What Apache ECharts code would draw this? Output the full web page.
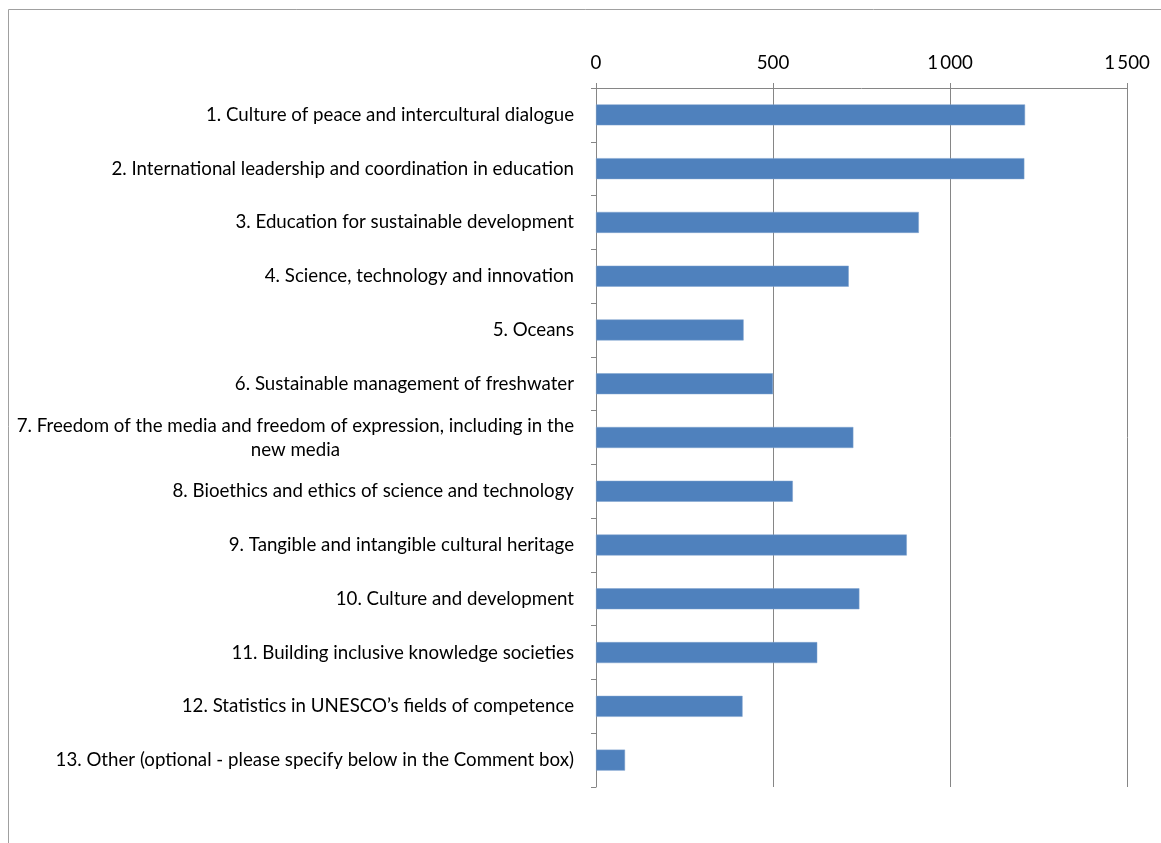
<!DOCTYPE html>
<html>
<head>
<meta charset="utf-8">
<script src="https://cdn.jsdelivr.net/npm/echarts@6/dist/echarts.min.js"></script>
<style>
  html, body { margin: 0; padding: 0; background: #fff; }
  #chart { width: 1161px; height: 843px; }
</style>
</head>
<body>
<div id="chart"></div>
<script>
// categories, top to bottom
var categories = [
  '1. Culture of peace and intercultural dialogue',
  '2. International leadership and coordination in education',
  '3. Education for sustainable development',
  '4. Science, technology and innovation',
  '5. Oceans',
  '6. Sustainable management of freshwater',
  '7. Freedom of the media and freedom of expression, including in the|new media',
  '8. Bioethics and ethics of science and technology',
  '9. Tangible and intangible cultural heritage',
  '10. Culture and development',
  '11. Building inclusive knowledge societies',
  '12. Statistics in UNESCO\u2019s fields of competence',
  '13. Other (optional - please specify below in the Comment box)'
]
var responses = [1212, 1210, 912, 714, 417, 500, 727, 556, 878, 744, 625, 414, 82]
var xTicks = [0, 500, 1000, 1500]

var font = 'Lato'
var fs = 18.7
var chart = echarts.init(document.getElementById('chart'))

var option = {
  animation: false,
  backgroundColor: '#fff',
  textStyle: { fontFamily: font },
  graphic: [{
    type: 'rect',
    shape: { x: 8.5, y: 9.5, width: 1300, height: 1000 },
    style: { fill: 'none', stroke: '#a0a0a0', lineWidth: 1 },
    silent: true
  }],
  grid: { left: 596, right: 34, top: 88, bottom: 56 },
  xAxis: {
    type: 'value',
    position: 'top',
    min: xTicks[0],
    max: xTicks[xTicks.length - 1],
    interval: 500,
    axisLine: { show: true, lineStyle: { color: '#868686' } },
    axisTick: { show: true, length: 5, lineStyle: { color: '#868686' } },
    splitLine: { show: true, lineStyle: { color: '#868686' } },
    axisLabel: {
      color: '#000',
      fontSize: fs,
      margin: 16,
      formatter: function (v) {
        return String(v).replace(/\B(?=(\d{3})+(?!\d))/g, '\u2009')
      }
    }
  },
  yAxis: {
    type: 'category',
    inverse: true,
    data: categories,
    axisLine: { show: true, lineStyle: { color: '#868686' } },
    axisTick: { show: true, length: 5, lineStyle: { color: '#868686' } },
    axisLabel: {
      color: '#000',
      fontSize: fs,
      lineHeight: 24,
      margin: 22,
      formatter: function (v) {
        var parts = v.split('|')
        if (parts.length === 1) return v
        return parts[0] + '\n{c|' + parts[1] + '}'
      },
      rich: {
        c: { width: 543, align: 'center', fontSize: fs, lineHeight: 24, color: '#000', fontFamily: font }
      }
    }
  },
  series: [{
    type: 'bar',
    data: responses,
    barCategoryGap: '61%',
    itemStyle: { color: '#4f81bd', borderColor: '#7fa3cf', borderWidth: 0.5 }
  }]
}
chart.setOption(option)
</script>
</body>
</html>
